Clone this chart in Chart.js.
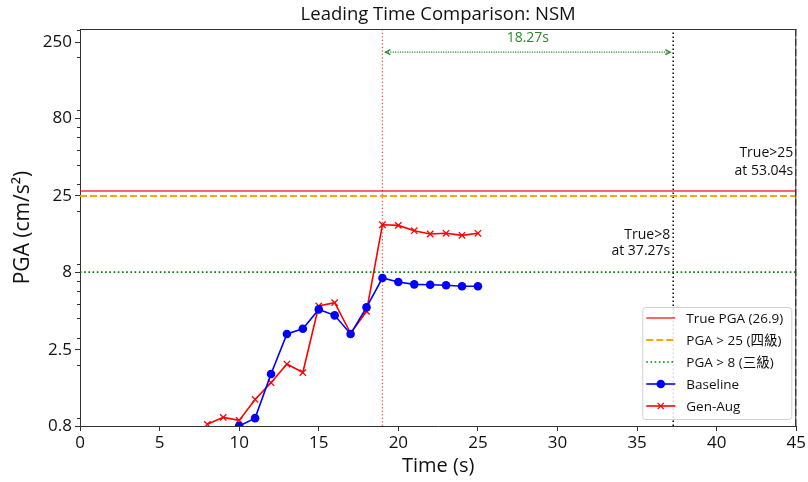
<!DOCTYPE html>
<html>
<head>
<meta charset="utf-8">
<title>Leading Time Comparison: NSM</title>
<script src="https://cdn.jsdelivr.net/npm/chart.js@4.4.0/dist/chart.umd.min.js"></script>
<style>
  html, body { margin: 0; padding: 0; background: #fff; }
  #wrap { width: 808px; height: 482px; }
</style>
</head>
<body>
<div id="wrap"><canvas id="chart" width="808" height="482"></canvas></div>
<script>
// ---- data ----
const baselineTime = [10, 11, 12, 13, 14, 15, 16, 17, 18, 19, 20, 21, 22, 23, 24, 25];
const baselinePGA  = [0.8, 0.9, 1.74, 3.17, 3.43, 4.58, 4.19, 3.17, 4.72, 7.32, 6.9, 6.66, 6.62, 6.57, 6.47, 6.47];

const genAugTime = [8, 9, 10, 11, 12, 13, 14, 15, 16, 17, 18, 19, 20, 21, 22, 23, 24, 25];
const genAugPGA  = [0.82, 0.91, 0.87, 1.19, 1.53, 2.02, 1.78, 4.82, 5.06, 3.2, 4.45, 16.25, 16.1, 14.87, 14.15, 14.3, 13.87, 14.3];

const truePGA = 26.9;          // observed peak ground acceleration
const level4 = 25;             // 四級 threshold
const level3 = 8;              // 三級 threshold
const alertTime = 19;          // first Gen-Aug exceedance of level 3
const trueOver8Time = 37.27;   // true record crosses 8
const trueOver25Time = 53.04;  // true record crosses 25
const leadTime = 18.27;        // trueOver8Time - alertTime

const xTicks = [0, 5, 10, 15, 20, 25, 30, 35, 40, 45];
const yTicks = [0.8, 2.5, 8, 25, 80, 250];
const xRange = [0, 45];
const yRange = [0.8, 304];

const FONT = "'Open Sans', 'Noto Sans CJK TC', sans-serif";

const seg = (x0, y0, x1, y1) => [{ x: x0, y: y0 }, { x: x1, y: y1 }];
const pts = (xs, ys) => xs.map((x, i) => ({ x, y: ys[i] }));
const over25X = Math.min(trueOver25Time, xRange[1]);

const datasets = [
  {
    label: 'True PGA (' + truePGA + ')', inLegend: true,
    data: seg(xRange[0], truePGA, xRange[1], truePGA),
    borderColor: 'rgba(255,0,0,0.6)', borderWidth: 2, pointRadius: 0
  },
  {
    label: 'PGA > ' + level4 + ' (四級)', inLegend: true,
    data: seg(xRange[0], level4, xRange[1], level4),
    borderColor: '#ffa500', borderWidth: 2, borderDash: [7, 3], pointRadius: 0
  },
  {
    label: 'PGA > ' + level3 + ' (三級)', inLegend: true,
    data: seg(xRange[0], level3, xRange[1], level3),
    borderColor: '#008000', borderWidth: 1.6, borderDash: [1.6, 2.6], pointRadius: 0
  },
  {
    label: 'Baseline', inLegend: true,
    data: pts(baselineTime, baselinePGA),
    borderColor: '#0000ff', backgroundColor: '#0000ff', borderWidth: 1.6,
    pointStyle: 'circle', pointRadius: 4.3, pointBorderWidth: 0
  },
  {
    label: 'Gen-Aug', inLegend: true,
    data: pts(genAugTime, genAugPGA),
    borderColor: '#ff0000', backgroundColor: '#ff0000', borderWidth: 1.6,
    pointStyle: 'crossRot', pointRadius: 4.5, pointBorderWidth: 1.3
  },
  {
    label: 'alert', inLegend: false,
    data: seg(alertTime, yRange[0], alertTime, yRange[1]),
    borderColor: 'rgba(255,0,0,0.7)', borderWidth: 1.3, borderDash: [1.3, 2.2], pointRadius: 0
  },
  {
    label: 'true>8', inLegend: false,
    data: seg(trueOver8Time, yRange[0], trueOver8Time, yRange[1]),
    borderColor: '#000', borderWidth: 1.5, borderDash: [1.5, 2.5], pointRadius: 0
  },
  {
    label: 'true>25', inLegend: false,
    data: seg(over25X, yRange[0], over25X, yRange[1]),
    borderColor: '#000', borderWidth: 2, borderDash: [7, 3], pointRadius: 0
  }
];

// frame, minor ticks, lead-time arrow, notes, title and legend
const decorations = {
  id: 'decorations',
  afterDatasetsDraw(chart) {
    const { ctx, chartArea: a, scales: { x, y } } = chart;
    ctx.save();

    // top and right spines
    ctx.strokeStyle = '#333';
    ctx.lineWidth = 1;
    ctx.beginPath();
    ctx.moveTo(a.left, a.top + 0.5);
    ctx.lineTo(a.right, a.top + 0.5);
    ctx.moveTo(a.right - 0.5, a.top);
    ctx.lineTo(a.right - 0.5, a.bottom);
    ctx.stroke();

    // minor log ticks (2..9 per decade)
    ctx.strokeStyle = '#333';
    ctx.beginPath();
    for (let k = -1; k <= 2; k++) {
      for (let m = 2; m <= 9; m++) {
        const v = m * Math.pow(10, k);
        if (v < yRange[0] || v > yRange[1]) continue;
        if (yTicks.some(t => Math.abs(t - v) < 1e-9)) continue;
        const py = Math.round(y.getPixelForValue(v)) + 0.5;
        ctx.moveTo(a.left - 3, py);
        ctx.lineTo(a.left, py);
      }
    }
    ctx.stroke();

    // lead time arrow between alert and true exceedance of 8
    const ay = y.getPixelForValue(215);
    const ax0 = x.getPixelForValue(alertTime) + 3;
    const ax1 = x.getPixelForValue(trueOver8Time) - 3;
    ctx.strokeStyle = '#2a8a2a';
    ctx.lineWidth = 1.2;
    ctx.setLineDash([1.2, 1.2]);
    ctx.beginPath();
    ctx.moveTo(ax0, ay);
    ctx.lineTo(ax1, ay);
    ctx.stroke();
    ctx.setLineDash([]);
    ctx.beginPath();
    ctx.moveTo(ax0 + 5, ay - 2.5); ctx.lineTo(ax0, ay); ctx.lineTo(ax0 + 5, ay + 2.5);
    ctx.moveTo(ax1 - 5, ay - 2.5); ctx.lineTo(ax1, ay); ctx.lineTo(ax1 - 5, ay + 2.5);
    ctx.stroke();
    ctx.fillStyle = '#2a8a2a';
    ctx.font = '14px ' + FONT;
    ctx.textAlign = 'center';
    ctx.textBaseline = 'middle';
    ctx.fillText(leadTime.toFixed(2) + 's', (ax0 + ax1) / 2, ay - 14);

    // threshold crossing notes
    ctx.fillStyle = '#111';
    ctx.font = '14px ' + FONT;
    ctx.textAlign = 'right';
    ctx.textBaseline = 'middle';
    const n25x = x.getPixelForValue(over25X) - 3;
    const n25y = y.getPixelForValue(level4) - 43;
    ctx.fillText('True>' + level4, n25x, n25y);
    ctx.fillText('at ' + trueOver25Time.toFixed(2) + 's', n25x, n25y + 18);
    const n8x = x.getPixelForValue(trueOver8Time) - 3;
    const n8y = y.getPixelForValue(level3) - 37;
    ctx.fillText('True>' + level3, n8x, n8y);
    ctx.fillText('at ' + trueOver8Time.toFixed(2) + 's', n8x, n8y + 16);

    // title centred over the plot
    ctx.fillStyle = '#111';
    ctx.font = '18.5px ' + FONT;
    ctx.textAlign = 'center';
    ctx.textBaseline = 'middle';
    ctx.fillText('Leading Time Comparison: NSM', (a.left + a.right) / 2, 15);

    // legend box in the lower right corner
    const items = chart.data.datasets.filter(d => d.inLegend);
    const bw = 149, rowH = 22, bh = items.length * rowH + 2;
    const bx = a.right - 5 - bw, by = a.bottom - 7 - bh;
    ctx.fillStyle = 'rgba(255,255,255,0.85)';
    ctx.strokeStyle = '#d0d0d0';
    ctx.lineWidth = 1;
    ctx.beginPath();
    ctx.roundRect(bx + 0.5, by + 0.5, bw, bh, 3);
    ctx.fill();
    ctx.stroke();
    items.forEach((d, i) => {
      const cy = by + 11 + i * rowH;
      const lx0 = bx + 4, lx1 = bx + 33;
      ctx.strokeStyle = d.borderColor;
      ctx.lineWidth = d.borderWidth;
      ctx.setLineDash(d.borderDash || []);
      ctx.beginPath();
      ctx.moveTo(lx0, cy);
      ctx.lineTo(lx1, cy);
      ctx.stroke();
      ctx.setLineDash([]);
      if (d.pointRadius) {
        const cx = (lx0 + lx1) / 2;
        if (d.pointStyle === 'circle') {
          ctx.fillStyle = d.backgroundColor;
          ctx.beginPath();
          ctx.arc(cx, cy, d.pointRadius, 0, Math.PI * 2);
          ctx.fill();
        } else {
          const r = d.pointRadius * 0.7;
          ctx.lineWidth = d.pointBorderWidth;
          ctx.beginPath();
          ctx.moveTo(cx - r, cy - r); ctx.lineTo(cx + r, cy + r);
          ctx.moveTo(cx - r, cy + r); ctx.lineTo(cx + r, cy - r);
          ctx.stroke();
        }
      }
      ctx.fillStyle = '#111';
      ctx.font = '13.5px ' + FONT;
      ctx.textAlign = 'left';
      ctx.textBaseline = 'middle';
      ctx.fillText(d.label, bx + 44, cy + 1);
    });

    ctx.restore();
  }
};

new Chart(document.getElementById('chart'), {
  type: 'line',
  data: { datasets },
  plugins: [decorations],
  options: {
    responsive: false,
    devicePixelRatio: 1,
    animation: false,
    layout: { padding: { top: 29, right: 11, left: 0, bottom: 0 } },
    plugins: {
      legend: { display: false },
      title: { display: false },
      tooltip: { enabled: false }
    },
    scales: {
      x: {
        type: 'linear',
        min: xRange[0],
        max: xRange[1],
        afterBuildTicks: s => { s.ticks = xTicks.map(v => ({ value: v })); },
        afterFit: s => { s.height = 56; },
        grid: { display: true, drawOnChartArea: false, drawTicks: true, tickLength: 5, color: '#333' },
        border: { display: true, color: '#333', width: 1 },
        ticks: { color: '#111', font: { family: FONT, size: 17 }, padding: 2, maxRotation: 0 },
        title: { display: true, text: 'Time (s)', color: '#111', font: { family: FONT, size: 20 }, padding: { top: 0, bottom: 4 } }
      },
      y: {
        type: 'logarithmic',
        min: yRange[0],
        max: yRange[1],
        afterBuildTicks: s => { s.ticks = yTicks.map(v => ({ value: v })); },
        afterFit: s => { s.width = 80; },
        grid: { display: true, drawOnChartArea: false, drawTicks: true, tickLength: 5, color: '#333' },
        border: { display: true, color: '#333', width: 1 },
        ticks: { color: '#111', font: { family: FONT, size: 17 }, padding: 3, callback: v => String(v) },
        title: { display: true, text: 'PGA (cm/s²)', color: '#111', font: { family: FONT, size: 21 }, padding: { top: 10, bottom: 0 } }
      }
    }
  }
});
</script>
</body>
</html>
